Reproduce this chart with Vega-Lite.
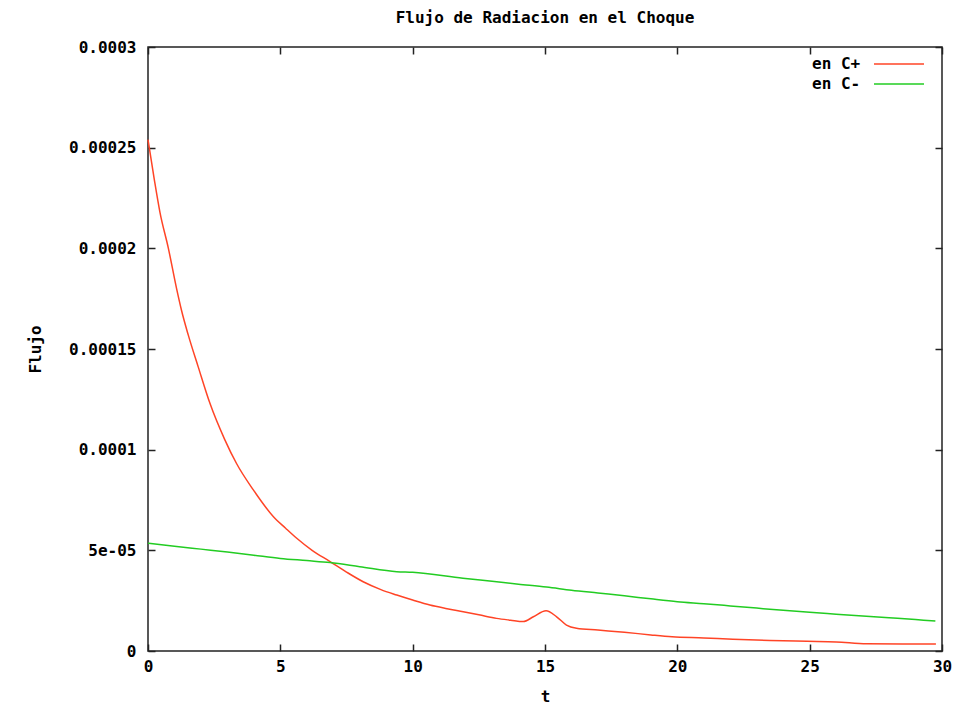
{
  "$schema": "https://vega.github.io/schema/vega-lite/v6.json",
  "autosize": "none",
  "padding": {"left": 148, "top": 47, "right": 29, "bottom": 53},
  "width": 794,
  "height": 604,
  "background": "white",
  "title": {
    "text": "Flujo de Radiacion en el Choque",
    "font": "DejaVu Sans Mono",
    "fontWeight": "bold",
    "fontSize": 16,
    "color": "#000",
    "anchor": "middle",
    "offset": 13
  },
  "config": {
    "view": {"stroke": "#222", "strokeWidth": 1.5},
    "axis": {
      "labelFont": "DejaVu Sans Mono",
      "labelFontWeight": "bold",
      "labelFontSize": 16,
      "labelColor": "#000",
      "titleFont": "DejaVu Sans Mono",
      "titleFontWeight": "bold",
      "titleFontSize": 16,
      "titleColor": "#000",
      "grid": false,
      "domain": false,
      "tickColor": "#222",
      "tickWidth": 1.5,
      "tickSize": -7
    },
    "legend": {
      "labelFont": "DejaVu Sans Mono",
      "labelFontWeight": "bold",
      "labelFontSize": 16,
      "labelColor": "#000"
    }
  },
  "data": {
    "values": [
      {"t": 0, "flujo": 0.000254, "serie": "en C+"},
      {"t": 0.24, "flujo": 0.000234, "serie": "en C+"},
      {"t": 0.45, "flujo": 0.000218, "serie": "en C+"},
      {"t": 0.77, "flujo": 0.0002, "serie": "en C+"},
      {"t": 1.08, "flujo": 0.00018, "serie": "en C+"},
      {"t": 1.27, "flujo": 0.000169, "serie": "en C+"},
      {"t": 1.52, "flujo": 0.000157, "serie": "en C+"},
      {"t": 1.9, "flujo": 0.000141, "serie": "en C+"},
      {"t": 2.34, "flujo": 0.000123, "serie": "en C+"},
      {"t": 2.9, "flujo": 0.000105, "serie": "en C+"},
      {"t": 3.35, "flujo": 0.000093, "serie": "en C+"},
      {"t": 3.98, "flujo": 0.00008, "serie": "en C+"},
      {"t": 4.74, "flujo": 0.0000667, "serie": "en C+"},
      {"t": 5.2, "flujo": 0.000061, "serie": "en C+"},
      {"t": 5.62, "flujo": 0.000056, "serie": "en C+"},
      {"t": 6.2, "flujo": 0.00005, "serie": "en C+"},
      {"t": 6.88, "flujo": 0.0000444, "serie": "en C+"},
      {"t": 7.5, "flujo": 0.0000392, "serie": "en C+"},
      {"t": 8.13, "flujo": 0.0000344, "serie": "en C+"},
      {"t": 8.8, "flujo": 0.0000305, "serie": "en C+"},
      {"t": 9.4, "flujo": 0.0000278, "serie": "en C+"},
      {"t": 10.0, "flujo": 0.0000253, "serie": "en C+"},
      {"t": 10.65, "flujo": 0.0000228, "serie": "en C+"},
      {"t": 11.3, "flujo": 0.000021, "serie": "en C+"},
      {"t": 11.91, "flujo": 0.0000195, "serie": "en C+"},
      {"t": 12.5, "flujo": 0.000018, "serie": "en C+"},
      {"t": 13.17, "flujo": 0.0000162, "serie": "en C+"},
      {"t": 13.7, "flujo": 0.0000153, "serie": "en C+"},
      {"t": 14.18, "flujo": 0.0000146, "serie": "en C+"},
      {"t": 14.56, "flujo": 0.000017, "serie": "en C+"},
      {"t": 15.04, "flujo": 0.00002, "serie": "en C+"},
      {"t": 15.44, "flujo": 0.000017, "serie": "en C+"},
      {"t": 15.81, "flujo": 0.0000129, "serie": "en C+"},
      {"t": 16.19, "flujo": 0.0000113, "serie": "en C+"},
      {"t": 17.0, "flujo": 0.0000104, "serie": "en C+"},
      {"t": 18.0, "flujo": 0.0000093, "serie": "en C+"},
      {"t": 19.0, "flujo": 0.000008, "serie": "en C+"},
      {"t": 19.8, "flujo": 0.0000071, "serie": "en C+"},
      {"t": 21.0, "flujo": 0.0000065, "serie": "en C+"},
      {"t": 22.1, "flujo": 0.0000058, "serie": "en C+"},
      {"t": 23.5, "flujo": 0.0000052, "serie": "en C+"},
      {"t": 24.9, "flujo": 0.0000048, "serie": "en C+"},
      {"t": 26.0, "flujo": 0.0000045, "serie": "en C+"},
      {"t": 27.15, "flujo": 0.0000036, "serie": "en C+"},
      {"t": 28.5, "flujo": 0.0000035, "serie": "en C+"},
      {"t": 29.77, "flujo": 0.0000035, "serie": "en C+"},
      {"t": 0, "flujo": 0.0000535, "serie": "en C-"},
      {"t": 1, "flujo": 0.000052, "serie": "en C-"},
      {"t": 2, "flujo": 0.0000506, "serie": "en C-"},
      {"t": 3, "flujo": 0.0000492, "serie": "en C-"},
      {"t": 4, "flujo": 0.0000476, "serie": "en C-"},
      {"t": 5, "flujo": 0.000046, "serie": "en C-"},
      {"t": 6, "flujo": 0.0000449, "serie": "en C-"},
      {"t": 6.88, "flujo": 0.0000439, "serie": "en C-"},
      {"t": 8, "flujo": 0.0000419, "serie": "en C-"},
      {"t": 9.4, "flujo": 0.0000394, "serie": "en C-"},
      {"t": 10, "flujo": 0.0000391, "serie": "en C-"},
      {"t": 11.9, "flujo": 0.0000361, "serie": "en C-"},
      {"t": 13, "flujo": 0.0000346, "serie": "en C-"},
      {"t": 14, "flujo": 0.0000332, "serie": "en C-"},
      {"t": 15.06, "flujo": 0.0000318, "serie": "en C-"},
      {"t": 16, "flujo": 0.0000302, "serie": "en C-"},
      {"t": 17, "flujo": 0.0000288, "serie": "en C-"},
      {"t": 18, "flujo": 0.0000274, "serie": "en C-"},
      {"t": 19, "flujo": 0.0000259, "serie": "en C-"},
      {"t": 20, "flujo": 0.0000245, "serie": "en C-"},
      {"t": 21, "flujo": 0.0000235, "serie": "en C-"},
      {"t": 22, "flujo": 0.0000224, "serie": "en C-"},
      {"t": 23, "flujo": 0.0000213, "serie": "en C-"},
      {"t": 24, "flujo": 0.0000202, "serie": "en C-"},
      {"t": 25, "flujo": 0.0000192, "serie": "en C-"},
      {"t": 26, "flujo": 0.0000183, "serie": "en C-"},
      {"t": 27, "flujo": 0.0000174, "serie": "en C-"},
      {"t": 28, "flujo": 0.0000165, "serie": "en C-"},
      {"t": 29, "flujo": 0.0000156, "serie": "en C-"},
      {"t": 29.75, "flujo": 0.0000149, "serie": "en C-"}
    ]
  },
  "layer": [
    {
      "mark": {"type": "line", "strokeWidth": 1.5, "interpolate": "monotone"},
      "encoding": {
        "x": {
          "field": "t", "type": "quantitative",
          "scale": {"domain": [0, 30], "nice": false, "zero": false},
          "axis": {"orient": "bottom", "values": [0, 5, 10, 15, 20, 25, 30], "title": "t", "labelPadding": 14, "titlePadding": 14, "labelFlush": false}
        },
        "y": {
          "field": "flujo", "type": "quantitative",
          "scale": {"domain": [0, 0.0003], "nice": false},
          "axis": {
            "orient": "left",
            "values": [0, 0.00005, 0.0001, 0.00015, 0.0002, 0.00025, 0.0003],
            "labelExpr": "datum.value == 0 ? '0' : (abs(datum.value - 0.00005) < 1e-9 ? '5e-05' : format(datum.value, '~g'))",
            "title": "Flujo",
            "labelPadding": 19,
            "titlePadding": 25,
            "labelFlush": false
          }
        },
        "color": {
          "field": "serie", "type": "nominal",
          "scale": {"domain": ["en C+", "en C-"], "range": ["#ff4426", "#22cc22"]},
          "legend": {
            "title": null,
            "orient": "none",
            "legendX": 662,
            "legendY": 7.5,
            "symbolType": "M-2.94,0H2.94",
            "symbolSize": 289,
            "symbolStrokeWidth": 1.5,
            "symbolOffset": 79.5,
            "labelOffset": -96.5,
            "rowPadding": 2
          }
        }
      }
    },
    {
      "mark": {"type": "line", "opacity": 0},
      "encoding": {
        "x": {
          "field": "t", "type": "quantitative",
          "axis": {"orient": "top", "values": [0, 5, 10, 15, 20, 25, 30], "labels": false, "title": null}
        },
        "y": {
          "field": "flujo", "type": "quantitative",
          "axis": {"orient": "right", "values": [0, 0.00005, 0.0001, 0.00015, 0.0002, 0.00025, 0.0003], "labels": false, "title": null}
        },
        "detail": {"field": "serie"}
      }
    }
  ],
  "resolve": {"axis": {"x": "independent", "y": "independent"}}
}
